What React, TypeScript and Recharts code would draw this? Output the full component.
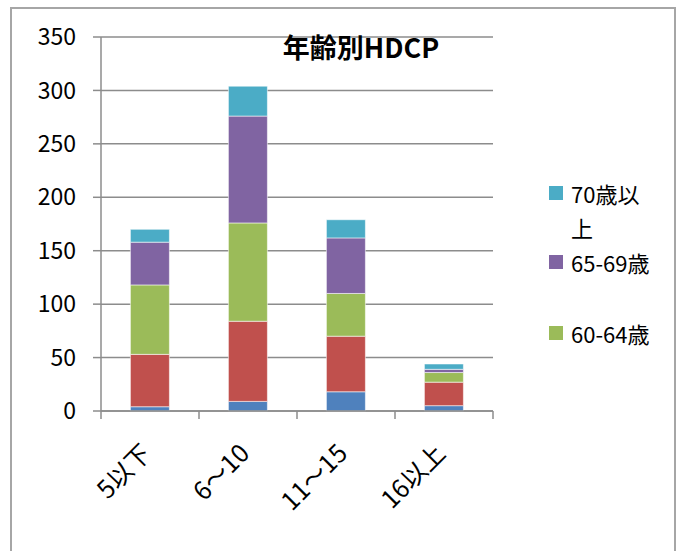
import { BarChart, Bar, XAxis, YAxis, CartesianGrid } from 'recharts';

// ── data ──────────────────────────────────────────────────────────────────────
const categories = ['5以下', '6～10', '11～15', '16以上'];
const under55 = [4, 9, 18, 5];
const age55to59 = [49, 75, 52, 22];
const age60to64 = [65, 92, 40, 9];
const age65to69 = [40, 100, 52, 3];
const age70plus = [12, 28, 17, 5];
const yTicks = [0, 50, 100, 150, 200, 250, 300, 350];

const SERIES = [
  { key: 'under55', name: '55歳未満', color: '#4F81BD', values: under55, legend: false },
  { key: 'age55to59', name: '55-59歳', color: '#C0504D', values: age55to59, legend: false },
  { key: 'age60to64', name: '60-64歳', color: '#9BBB59', values: age60to64, legend: true },
  { key: 'age65to69', name: '65-69歳', color: '#8064A2', values: age65to69, legend: true },
  { key: 'age70plus', name: '70歳以上', color: '#4BACC6', values: age70plus, legend: true },
];

const rows = categories.map((name, i) => {
  const row: Record<string, string | number> = { name };
  SERIES.forEach(s => { row[s.key] = s.values[i]; });
  return row;
});

// ── layout ────────────────────────────────────────────────────────────────────
const W = 680;
const H = 551;
const MARGIN = { top: 37, right: 187, bottom: 0, left: 0 };
const Y_W = 101;
const X_H = 140;
const PLOT_LEFT = MARGIN.left + Y_W;
const PLOT_RIGHT = W - MARGIN.right;
const PLOT_BOTTOM = H - MARGIN.bottom - X_H;
const BAND = (PLOT_RIGHT - PLOT_LEFT) / categories.length;

const FONT = "'Noto Sans CJK JP', 'Noto Sans', sans-serif";
const AXIS = '#8c8c8c';

// legend rows (Excel shows them top series first), vertical centres in px
const LEGEND_CENTRES = [193, 262, 333];

function CategoryTick(props: any) {
  const { x, payload, index, visibleTicksCount } = props;
  const left = x - BAND / 2;
  const tx = x + 3;
  const ty = PLOT_BOTTOM + 44;
  return (
    <g>
      <line x1={left} x2={left} y1={PLOT_BOTTOM} y2={PLOT_BOTTOM + 8} stroke={AXIS} strokeWidth={1.5} />
      {index === visibleTicksCount - 1 && (
        <line x1={x + BAND / 2} x2={x + BAND / 2} y1={PLOT_BOTTOM} y2={PLOT_BOTTOM + 8}
          stroke={AXIS} strokeWidth={1.5} />
      )}
      <text x={tx} y={ty} transform={`rotate(-45 ${tx} ${ty})`} textAnchor="end"
        fontSize={25} fill="#000" fontFamily={FONT}>
        {payload.value}
      </text>
    </g>
  );
}

export default function App() {
  const legendItems = SERIES.filter(s => s.legend).reverse();
  return (
    <div style={{ position: 'absolute', left: 0, top: 0, width: W, height: H, background: '#fff',
      fontFamily: FONT, overflow: 'hidden' }}>
      <div style={{ position: 'absolute', left: 10, top: 7, width: 666, height: 600,
        border: '2px solid #a6a6a6', boxSizing: 'border-box' }} />

      <BarChart width={W} height={H} data={rows} margin={MARGIN} barCategoryGap="30%"
        style={{ position: 'absolute', left: 0, top: 0 }}>
        <CartesianGrid vertical={false} stroke={AXIS} strokeWidth={1.5} />
        <XAxis dataKey="name" height={X_H} interval={0} tickLine={false}
          axisLine={{ stroke: AXIS, strokeWidth: 1.5 }} tick={<CategoryTick />} />
        <YAxis width={Y_W} domain={[0, 350]} ticks={yTicks} interval={0}
          tickSize={8} tickMargin={17}
          tickLine={{ stroke: AXIS, strokeWidth: 1.5 }}
          axisLine={{ stroke: AXIS, strokeWidth: 1.5 }}
          tick={{ fontSize: 23, fill: '#000', fontFamily: FONT }} />
        {SERIES.map(s => (
          <Bar key={s.key} dataKey={s.key} name={s.name} stackId="a" fill={s.color}
            stroke="#ffffff" strokeOpacity={0.55} strokeWidth={1} isAnimationActive={false} />
        ))}
      </BarChart>

      <div style={{ position: 'absolute', left: 0, width: 722, top: 29, textAlign: 'center',
        fontSize: 27, fontWeight: 700, lineHeight: '36px', color: '#000' }}>
        年齢別HDCP
      </div>

      {legendItems.map((s, i) => (
        <div key={s.key} style={{ position: 'absolute', left: 549, top: LEGEND_CENTRES[i] - 17,
          display: 'flex', alignItems: 'flex-start' }}>
          <div style={{ width: 14, height: 14, background: s.color, marginTop: 10, marginRight: 8 }} />
          <div style={{ width: 84, fontSize: 22, lineHeight: '34px', color: '#000' }}>{s.name}</div>
        </div>
      ))}
    </div>
  );
}
